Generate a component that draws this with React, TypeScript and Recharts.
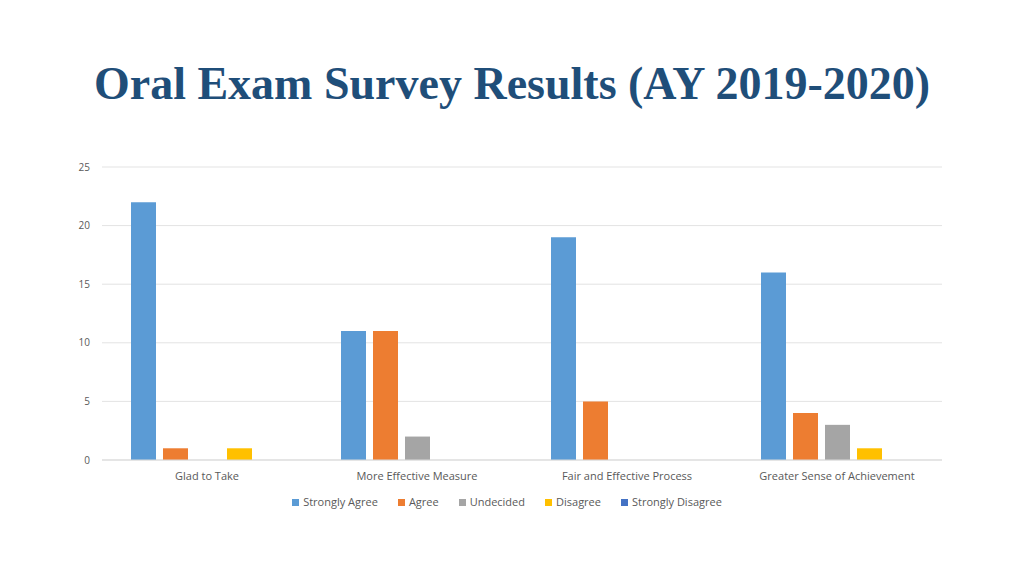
import React from "react";
import {
  BarChart,
  Bar,
  XAxis,
  YAxis,
  CartesianGrid,
  Legend,
} from "recharts";

const categories = [
  "Glad to Take",
  "More Effective Measure",
  "Fair and Effective Process",
  "Greater Sense of Achievement",
];
const stronglyAgree = [22, 11, 19, 16];
const agree = [1, 11, 5, 4];
const undecided = [0, 2, 0, 3];
const disagree = [1, 0, 0, 1];
const stronglyDisagree = [0, 0, 0, 0];
const yTicks = [0, 5, 10, 15, 20, 25];

const data = categories.map((name, i) => ({
  name,
  "Strongly Agree": stronglyAgree[i],
  Agree: agree[i],
  Undecided: undecided[i],
  Disagree: disagree[i],
  "Strongly Disagree": stronglyDisagree[i],
}));

const series = [
  { key: "Strongly Agree", color: "#5B9BD5" },
  { key: "Agree", color: "#ED7D31" },
  { key: "Undecided", color: "#A5A5A5" },
  { key: "Disagree", color: "#FFC000" },
  { key: "Strongly Disagree", color: "#4472C4" },
];

const axisFont = "'Open Sans', 'Noto Sans', sans-serif";

// legend in series order (recharts sorts by name otherwise)
function LegendRow() {
  return (
    <div
      style={{
        display: "flex",
        justifyContent: "center",
        gap: 20,
        fontFamily: axisFont,
        fontSize: 11,
        color: "#595959",
        height: 16,
        lineHeight: "16px",
        paddingTop: 4,
      }}
    >
      {series.map((s) => (
        <span key={s.key} style={{ display: "flex", alignItems: "center" }}>
          <span
            style={{
              display: "inline-block",
              width: 7,
              height: 7,
              background: s.color,
              marginRight: 4,
            }}
          />
          {s.key}
        </span>
      ))}
    </div>
  );
}

export default function App() {
  return (
    <div
      style={{
        position: "absolute",
        left: 0,
        top: 0,
        width: 1024,
        height: 576,
        background: "#fff",
      }}
    >
      <div
        style={{
          position: "absolute",
          left: 0,
          top: 58,
          width: 1024,
          textAlign: "center",
          fontFamily: "'Liberation Serif', 'DejaVu Serif', serif",
          fontWeight: 700,
          fontSize: 46,
          color: "#1F4E79",
          lineHeight: "52px",
        }}
      >
        Oral Exam Survey Results (AY 2019-2020)
      </div>
      <div style={{ position: "absolute", left: 0, top: 0 }}>
        <BarChart
          width={1024}
          height={576}
          data={data}
          margin={{ top: 167, right: 82, bottom: 66, left: 72 }}
          barSize={25}
          barGap={7}
        >
          <CartesianGrid vertical={false} stroke="#e3e3e3" />
          <XAxis
            dataKey="name"
            axisLine={{ stroke: "#d9d9d9" }}
            tickLine={false}
            height={30}
            tick={{ fill: "#595959", fontSize: 11, fontFamily: axisFont }}
            tickMargin={6}
          />
          <YAxis
            width={30}
            domain={[0, 25]}
            ticks={yTicks}
            axisLine={false}
            tickLine={false}
            tick={{ fill: "#595959", fontSize: 10, fontFamily: axisFont }}
            tickMargin={6}
          />
          <Legend
            verticalAlign="bottom"
            align="center"
            content={() => <LegendRow />}
          />
          {series.map((s) => (
            <Bar
              key={s.key}
              dataKey={s.key}
              fill={s.color}
              isAnimationActive={false}
            />
          ))}
        </BarChart>
      </div>
    </div>
  );
}
